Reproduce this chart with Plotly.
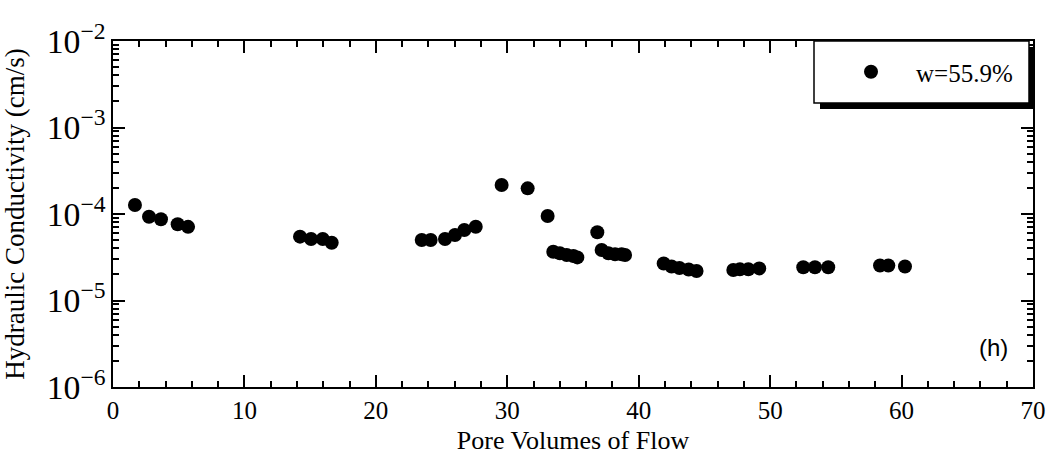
import plotly.graph_objects as go

# Pore volumes of flow (x) and hydraulic conductivity in cm/s (y)
pore_volumes = [
    1.67, 2.74, 3.65, 4.92, 5.71,
    14.23, 15.07, 15.96, 16.64,
    23.49, 24.17, 25.26, 26.02, 26.73, 27.60,
    29.57, 31.55, 33.07,
    33.50, 34.00, 34.52, 35.03, 35.33,
    36.85,
    37.18, 37.69, 38.20, 38.70, 38.96,
    41.90, 42.50, 43.10, 43.80, 44.40,
    47.20, 47.70, 48.34, 49.17,
    52.52, 53.41, 54.42,
    58.36, 58.99, 60.26,
]
conductivity = [
    1.27e-4, 9.3e-5, 8.7e-5, 7.6e-5, 7.1e-5,
    5.47e-5, 5.14e-5, 5.14e-5, 4.66e-5,
    5.0e-5, 5.0e-5, 5.14e-5, 5.71e-5, 6.53e-5, 7.13e-5,
    2.16e-4, 1.98e-4, 9.5e-5,
    3.66e-5, 3.52e-5, 3.36e-5, 3.27e-5, 3.15e-5,
    6.14e-5,
    3.84e-5, 3.52e-5, 3.42e-5, 3.42e-5, 3.36e-5,
    2.68e-5, 2.47e-5, 2.38e-5, 2.28e-5, 2.19e-5,
    2.25e-5, 2.29e-5, 2.30e-5, 2.35e-5,
    2.42e-5, 2.42e-5, 2.42e-5,
    2.54e-5, 2.54e-5, 2.47e-5,
]
series_name = "w=55.9%"
panel_label = "(h)"
x_title = "Pore Volumes of Flow"
y_title = "Hydraulic Conductivity (cm/s)"

SERIF = "Liberation Serif, Times New Roman, serif"

W, H = 1058, 461
ML, MR, MT, MB = 113, 25, 41, 74
PW, PH = W - ML - MR, H - MT - MB


def px(xp):
    return (xp - ML) / PW


def py(yp):
    return (H - MB - yp) / PH


fig = go.Figure()
fig.add_trace(go.Scatter(
    x=pore_volumes, y=conductivity, mode="markers",
    name="\u00a0\u00a0\u00a0\u00a0" + series_name,
    marker=dict(color="black", size=14),
))

fig.update_xaxes(
    range=[0, 70], dtick=10,
    showline=True, linecolor="black", linewidth=2, mirror="allticks",
    ticks="inside", ticklen=12, tickwidth=2, tickcolor="black",
    showgrid=False, zeroline=False,
    tickfont=dict(family=SERIF, size=25, color="black"),
    minor=dict(dtick=2, ticks="inside", ticklen=6, tickwidth=2, tickcolor="black", showgrid=False),
    title=dict(text=x_title, font=dict(family=SERIF, size=26, color="black"), standoff=8),
)
fig.update_yaxes(
    type="log", range=[-6, -2], dtick=1, exponentformat="power", showexponent="all",
    showline=True, linecolor="black", linewidth=2, mirror="allticks",
    ticks="inside", ticklen=12, tickwidth=2, tickcolor="black",
    showgrid=False, zeroline=False,
    tickfont=dict(family=SERIF, size=27, color="black"),
    minor=dict(ticks="inside", ticklen=6, tickwidth=2, tickcolor="black", showgrid=False),
    title=dict(text=y_title, font=dict(family=SERIF, size=27, color="black"), standoff=16),
)

# legend box with drop shadow
fig.add_shape(type="rect", xref="paper", yref="paper",
              x0=px(820), x1=px(1035), y0=py(109), y1=py(47),
              fillcolor="black", line=dict(width=0))
fig.add_shape(type="rect", xref="paper", yref="paper",
              x0=px(814), x1=px(1029), y0=py(103), y1=py(41),
              fillcolor="white", line=dict(color="black", width=1.5))

fig.add_annotation(text=panel_label, xref="paper", yref="paper",
                   x=px(993), y=py(347), xanchor="center", yanchor="middle",
                   showarrow=False,
                   font=dict(family="Liberation Sans, Arial, sans-serif", size=24, color="black"))

fig.update_layout(
    template="none",
    width=W, height=H,
    margin=dict(l=ML, r=MR, t=MT, b=MB),
    showlegend=True,
    legend=dict(x=px(851), y=py(72), xanchor="left", yanchor="middle",
                bgcolor="rgba(0,0,0,0)", borderwidth=0,
                font=dict(family=SERIF, size=25, color="black")),
)

fig.write_html("out.html")
